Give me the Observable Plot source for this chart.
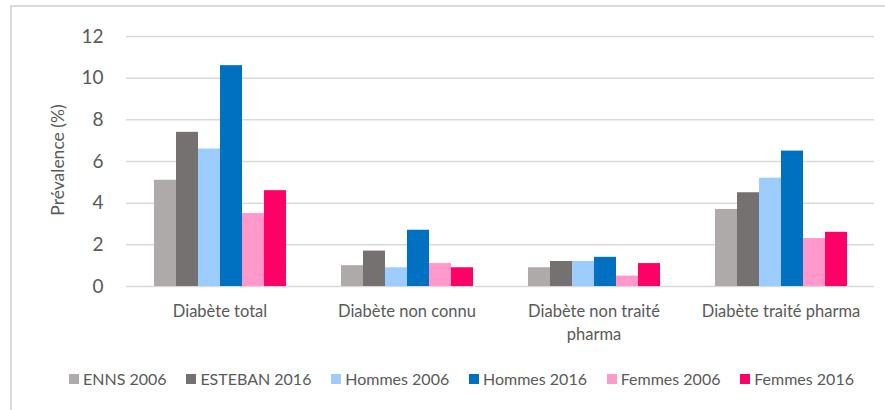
<!DOCTYPE html>
<html>
<head>
<meta charset="utf-8">
<script src="https://cdn.jsdelivr.net/npm/d3@7"></script>
<script src="https://cdn.jsdelivr.net/npm/@observablehq/plot@0.6"></script>
<style>
  html, body { margin: 0; padding: 0; background: #fff; overflow: hidden; }
  body { width: 885px; height: 410px; position: relative; font-family: Lato, "Open Sans", sans-serif; color: #595959; }
  #frame { position: absolute; left: 10px; top: 5px; width: 900px; height: 420px; border: 2px solid #D9D9D9; box-sizing: border-box; }
  #chart { position: absolute; left: 0; top: 0; }
  #ylabel { position: absolute; left: 57px; top: 160px; transform: translate(-50%, -50%) rotate(-90deg); font-size: 17.5px; white-space: nowrap; color: #595959; }
  #legend { position: absolute; left: 69px; top: 369px; width: 785px; display: flex; justify-content: space-between; font-size: 16px; line-height: 20px; color: #595959; }
  #legend .item { display: flex; align-items: center; white-space: nowrap; }
  #legend .sw { width: 10px; height: 10px; margin-right: 4px; display: inline-block; }
</style>
</head>
<body>
<div id="frame"></div>
<div id="chart"></div>
<div id="ylabel">Prévalence (%)</div>
<div id="legend"></div>
<script>
const categories = ["Diabète total", "Diabète non connu", "Diabète non traité pharma", "Diabète traité pharma"];
const categoryLabels = ["Diabète total", "Diabète non connu", "Diabète non traité\npharma", "Diabète traité pharma"];
const series = ["ENNS 2006", "ESTEBAN 2016", "Hommes 2006", "Hommes 2016", "Femmes 2006", "Femmes 2016"];
const colors = ["#AEAAAA", "#767171", "#9DCDFF", "#0070C0", "#FF99CC", "#FF0066"];
const ennS2006    = [5.1, 1.0, 0.9, 3.7];
const esteban2016 = [7.4, 1.7, 1.2, 4.5];
const hommes2006  = [6.6, 0.9, 1.2, 5.2];
const hommes2016  = [10.6, 2.7, 1.4, 6.5];
const femmes2006  = [3.5, 1.1, 0.5, 2.3];
const femmes2016  = [4.6, 0.9, 1.1, 2.6];
const yTicks = [0, 2, 4, 6, 8, 10, 12];

const seriesValues = [ennS2006, esteban2016, hommes2006, hommes2016, femmes2006, femmes2016];
const data = [];
categories.forEach((c, i) => {
  series.forEach((s, j) => {
    data.push({category: c, series: s, value: seriesValues[j][i]});
  });
});
const labelOf = new Map(categories.map((c, i) => [c, categoryLabels[i]]));

const chart = Plot.plot({
  width: 885,
  height: 345,
  marginLeft: 125,
  marginRight: 10,
  marginTop: 36,
  marginBottom: 59,
  style: {fontFamily: "Lato, 'Open Sans', sans-serif", color: "#595959", background: "transparent"},
  fx: {domain: categories, padding: 0, label: null},
  x: {domain: series, paddingInner: 0, paddingOuter: 1.135, axis: null},
  y: {domain: [0, 12], label: null},
  color: {domain: series, range: colors},
  marks: [
    Plot.gridY(yTicks, {stroke: "#D9D9D9", strokeOpacity: 1, strokeWidth: 1.5}),
    Plot.barY(data, {fx: "category", x: "series", y: "value", fill: "series"}),
    Plot.axisY({ticks: yTicks, tickSize: 0, tickPadding: 23, fontSize: 19, label: null, fill: "#595959"}),
    Plot.axisFx({anchor: "bottom", tickSize: 0, tickPadding: 15, fontSize: 16.5, lineHeight: 1.35, lineAnchor: "top", label: null, fill: "#595959", tickFormat: (d) => labelOf.get(d)})
  ]
});
document.getElementById("chart").appendChild(chart);

const legend = document.getElementById("legend");
series.forEach((s, j) => {
  const item = document.createElement("div");
  item.className = "item";
  const sw = document.createElement("span");
  sw.className = "sw";
  sw.style.background = colors[j];
  const t = document.createElement("span");
  t.textContent = s;
  item.appendChild(sw);
  item.appendChild(t);
  legend.appendChild(item);
});
</script>
</body>
</html>
